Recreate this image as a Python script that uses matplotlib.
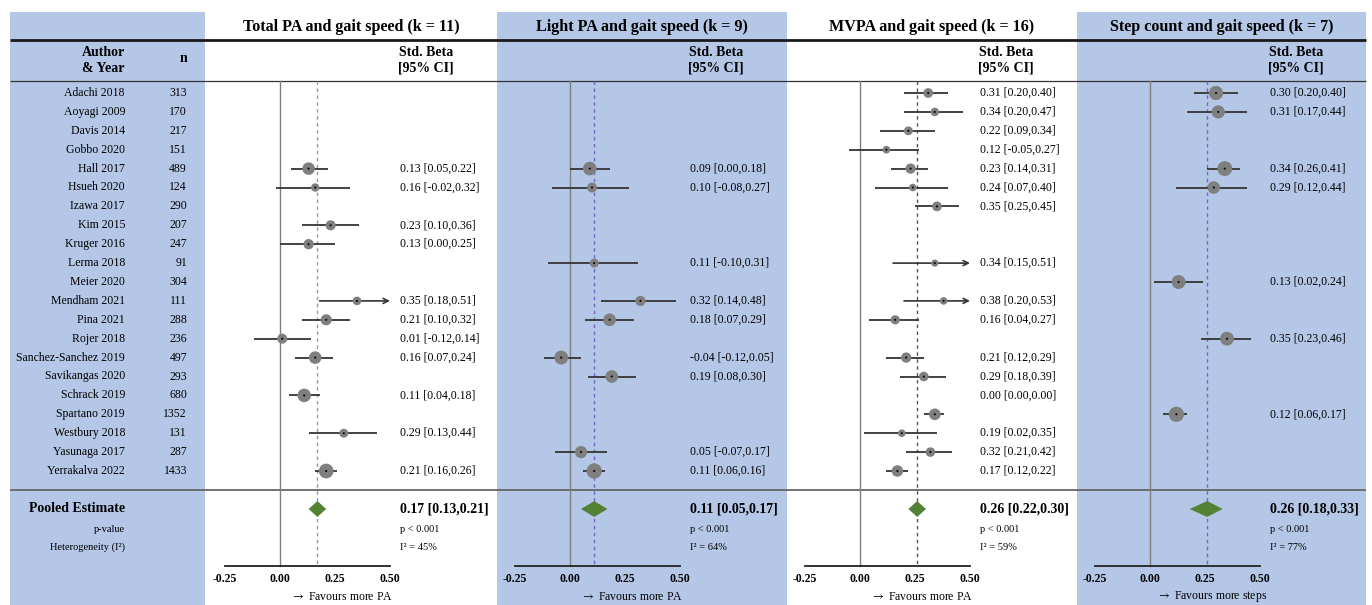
import numpy as np
import matplotlib
matplotlib.use("Agg")
import matplotlib.pyplot as plt
from matplotlib.patches import Rectangle, Polygon

plt.rcParams['font.family'] = ['Liberation Serif', 'DejaVu Serif']
plt.rcParams['mathtext.fontset'] = 'stix'

# ---------------- data ----------------
authors = ["Adachi 2018", "Aoyagi 2009", "Davis 2014", "Gobbo 2020", "Hall 2017",
           "Hsueh 2020", "Izawa 2017", "Kim 2015", "Kruger 2016", "Lerma 2018",
           "Meier 2020", "Mendham 2021", "Pina 2021", "Rojer 2018",
           "Sanchez-Sanchez 2019", "Savikangas 2020", "Schrack 2019",
           "Spartano 2019", "Westbury 2018", "Yasunaga 2017", "Yerrakalva 2022"]
n_sizes = [313, 170, 217, 151, 489, 124, 290, 207, 247, 91, 304, 111, 288, 236,
           497, 293, 680, 1352, 131, 287, 1433]

nan = np.nan
total_est = [nan, nan, nan, nan, 0.13, 0.16, nan, 0.23, 0.13, nan, nan, 0.35, 0.21, 0.01, 0.16, nan, 0.11, nan, 0.29, nan, 0.21]
total_lo  = [nan, nan, nan, nan, 0.05, -0.02, nan, 0.10, 0.00, nan, nan, 0.18, 0.10, -0.12, 0.07, nan, 0.04, nan, 0.13, nan, 0.16]
total_hi  = [nan, nan, nan, nan, 0.22, 0.32, nan, 0.36, 0.25, nan, nan, 0.51, 0.32, 0.14, 0.24, nan, 0.18, nan, 0.44, nan, 0.26]

light_est = [nan, nan, nan, nan, 0.09, 0.10, nan, nan, nan, 0.11, nan, 0.32, 0.18, nan, -0.04, 0.19, nan, nan, nan, 0.05, 0.11]
light_lo  = [nan, nan, nan, nan, 0.00, -0.08, nan, nan, nan, -0.10, nan, 0.14, 0.07, nan, -0.12, 0.08, nan, nan, nan, -0.07, 0.06]
light_hi  = [nan, nan, nan, nan, 0.18, 0.27, nan, nan, nan, 0.31, nan, 0.48, 0.29, nan, 0.05, 0.30, nan, nan, nan, 0.17, 0.16]

mvpa_est = [0.31, 0.34, 0.22, 0.12, 0.23, 0.24, 0.35, nan, nan, 0.34, nan, 0.38, 0.16, nan, 0.21, 0.29, nan, 0.34, 0.19, 0.32, 0.17]
mvpa_lo  = [0.20, 0.20, 0.09, -0.05, 0.14, 0.07, 0.25, nan, nan, 0.15, nan, 0.20, 0.04, nan, 0.12, 0.18, nan, 0.29, 0.02, 0.21, 0.12]
mvpa_hi  = [0.40, 0.47, 0.34, 0.27, 0.31, 0.40, 0.45, nan, nan, 0.51, nan, 0.53, 0.27, nan, 0.29, 0.39, nan, 0.38, 0.35, 0.42, 0.22]
# as printed in the original (text without marker for Schrack, marker without text for Spartano)
mvpa_text_override = {16: "0.00 [0.00,0.00]", 17: ""}

steps_est = [0.30, 0.31, nan, nan, 0.34, 0.29, nan, nan, nan, nan, 0.13, nan, nan, 0.35, nan, nan, nan, 0.12, nan, nan, nan]
steps_lo  = [0.20, 0.17, nan, nan, 0.26, 0.12, nan, nan, nan, nan, 0.02, nan, nan, 0.23, nan, nan, nan, 0.06, nan, nan, nan]
steps_hi  = [0.40, 0.44, nan, nan, 0.41, 0.44, nan, nan, nan, nan, 0.24, nan, nan, 0.46, nan, nan, nan, 0.17, nan, nan, nan]

titles = ["Total PA and gait speed", "Light PA and gait speed",
          "MVPA and gait speed", "Step count and gait speed"]
k_studies = [11, 9, 16, 7]
pooled_est = [0.17, 0.11, 0.26, 0.26]
pooled_lo = [0.13, 0.05, 0.22, 0.18]
pooled_hi = [0.21, 0.17, 0.30, 0.33]
p_values = ["p < 0.001", "p < 0.001", "p < 0.001", "p < 0.001"]
i2_values = [45, 64, 59, 77]
favours = ["Favours more PA", "Favours more PA", "Favours more PA", "Favours more steps"]
ticks = [-0.25, 0.0, 0.25, 0.50]
tick_labels = ["-0.25", "0.00", "0.25", "0.50"]

# ---------------- layout / style ----------------
W, H = 1372, 605
BLUE = "#b4c7e7"
GREEN = "#548235"
MARK = "#7f7f7f"
LINE = "#333333"
dash_colors = ["#9a90c2", "#7566c2", "#555555", "#7566c2"]
panel_edges = [(205, 497), (497, 787), (787, 1077), (1077, 1366)]
panel_zero = [280, 570, 860, 1150]
PX_PER_UNIT = 220.0
blue_panels = [False, True, False, True]


def row_of(py):
    return (py - 93) / 18.9


YB, YT = row_of(H), row_of(0)

fig = plt.figure(figsize=(W / 100, H / 100), dpi=100)
bg = fig.add_axes([0, 0, 1, 1])
bg.set_xlim(0, W)
bg.set_ylim(YB, YT)
bg.axis('off')

# backgrounds
top = row_of(12)
bg.add_patch(Rectangle((10, top), 195, YB - top, color=BLUE, lw=0, zorder=0))
for (l, r), isblue in zip(panel_edges, blue_panels):
    if isblue:
        bg.add_patch(Rectangle((l, top), r - l, YB - top, color=BLUE, lw=0, zorder=0))

# horizontal rules
bg.plot([10, 1366], [row_of(40)] * 2, color="#1a1a1a", lw=2.0, zorder=2, solid_capstyle='butt')
bg.plot([10, 1366], [row_of(81)] * 2, color="#333333", lw=0.9, zorder=2, solid_capstyle='butt')
bg.plot([10, 1366], [row_of(490)] * 2, color="#666666", lw=1.3, zorder=2, solid_capstyle='butt')

# left column
bg.text(125, row_of(52), "Author", ha='right', va='center', fontsize=10, fontweight='bold')
bg.text(125, row_of(68), "& Year", ha='right', va='center', fontsize=10, fontweight='bold')
bg.text(187, row_of(58), "n", ha='right', va='center', fontsize=10, fontweight='bold')
for i, (a, nn) in enumerate(zip(authors, n_sizes)):
    bg.text(125, i, a, ha='right', va='center', fontsize=8.5)
    bg.text(187, i, str(nn), ha='right', va='center', fontsize=8.5)
bg.text(125, row_of(509), "Pooled Estimate", ha='right', va='center', fontsize=10, fontweight='bold')
bg.text(125, row_of(529), "p-value", ha='right', va='center', fontsize=7.5)
bg.text(125, row_of(547), "Heterogeneity (I\u00b2)", ha='right', va='center', fontsize=7.5)

panels = [(total_est, total_lo, total_hi, {}),
          (light_est, light_lo, light_hi, {}),
          (mvpa_est, mvpa_lo, mvpa_hi, mvpa_text_override),
          (steps_est, steps_lo, steps_hi, {})]


def box_diameters(est, lo, hi):
    """Box diameter (px) proportional to sqrt of random-effects weight share."""
    est, lo, hi = map(np.asarray, (est, lo, hi))
    m = ~np.isnan(est)
    se = (hi[m] - lo[m]) / 3.92
    w = 1 / se ** 2
    yw = np.sum(w * est[m]) / np.sum(w)
    Q = np.sum(w * (est[m] - yw) ** 2)
    C = np.sum(w) - np.sum(w ** 2) / np.sum(w)
    tau2 = max(0.0, (Q - (m.sum() - 1)) / C)
    ws = 1 / (se ** 2 + tau2)
    pct = ws / ws.sum()
    d = np.full(est.shape, np.nan)
    d[m] = 37.0 * np.sqrt(pct)
    return d


y_top_line = row_of(81)
y_axis = row_of(566)

for p, ((l, r), z) in enumerate(zip(panel_edges, panel_zero)):
    est, lo, hi, override = panels[p]
    ax = fig.add_axes([l / W, 0, (r - l) / W, 1])
    ax.patch.set_alpha(0)
    ax.set_xlim((l - z) / PX_PER_UNIT, (r - z) / PX_PER_UNIT)
    ax.set_ylim(YB, YT)
    for s in ['top', 'left', 'right']:
        ax.spines[s].set_visible(False)
    ax.set_yticks([])

    xmid = ((l - z) + (r - z)) / 2 / PX_PER_UNIT
    ax.text(xmid, row_of(27), f"{titles[p]} (k = {k_studies[p]})",
            ha='center', va='center', fontsize=11.6, fontweight='bold')
    ax.text(0.665, row_of(52), "Std. Beta", ha='center', va='center', fontsize=10, fontweight='bold')
    ax.text(0.665, row_of(68), "[95% CI]", ha='center', va='center', fontsize=10, fontweight='bold')

    # reference lines
    ax.plot([0, 0], [y_top_line, y_axis], color="#7f7f7f", lw=1.0, zorder=1)
    ax.plot([pooled_est[p]] * 2, [y_top_line, y_axis], color=dash_colors[p], lw=1.0,
            ls=(0, (2.5, 2.5)), zorder=1)

    d = box_diameters(est, lo, hi)
    for i in range(len(authors)):
        e, lw_, hw_ = est[i], lo[i], hi[i]
        if not np.isnan(e):
            if hw_ > 0.5:
                ax.annotate("", xy=(0.5, i), xytext=(lw_, i),
                            arrowprops=dict(arrowstyle='->', color=LINE, lw=1.2,
                                            shrinkA=0, shrinkB=0, mutation_scale=9),
                            zorder=2)
            else:
                ax.plot([lw_, hw_], [i, i], color=LINE, lw=1.3, zorder=2,
                        solid_capstyle='butt')
            ax.scatter([e], [i], s=(d[i] * 0.72) ** 2, color=MARK, edgecolors='none', zorder=3)
            ax.scatter([e], [i], s=2.2, color='black', edgecolors='none', zorder=4)
        if i in override:
            txt = override[i]
        elif not np.isnan(e):
            txt = f"{e:.2f} [{lw_:.2f},{hw_:.2f}]"
        else:
            txt = ""
        if txt:
            ax.text(0.545, i, txt, ha='left', va='center', fontsize=8.5)

    # pooled diamond
    yp = row_of(509)
    hh = 0.42
    diamond = Polygon([[pooled_lo[p], yp], [pooled_est[p], yp - hh],
                       [pooled_hi[p], yp], [pooled_est[p], yp + hh]],
                      closed=True, color=GREEN, lw=0, zorder=3)
    ax.add_patch(diamond)
    ax.text(0.545, yp, f"{pooled_est[p]:.2f} [{pooled_lo[p]:.2f},{pooled_hi[p]:.2f}]",
            ha='left', va='center', fontsize=10, fontweight='bold')
    ax.text(0.545, row_of(529), p_values[p], ha='left', va='center', fontsize=7.5)
    ax.text(0.545, row_of(547), f"I\u00b2 = {i2_values[p]}%", ha='left', va='center', fontsize=7.5)

    # x axis
    sp = ax.spines['bottom']
    sp.set_position(('data', y_axis))
    sp.set_bounds(-0.25, 0.5)
    sp.set_color("#222222")
    sp.set_linewidth(1.3)
    ax.set_xticks(ticks)
    ax.set_xticklabels(tick_labels, fontweight='bold')
    ax.set_xticks([-0.25, 0.5], minor=True)
    ax.tick_params(axis='x', which='major', length=0, pad=5, labelsize=8.5)
    ax.tick_params(axis='x', which='minor', length=3, width=1.3, color="#222222", direction='out')
    ax.text(0.28, row_of(597), r"$\rightarrow$ " + favours[p], ha='center', va='center', fontsize=8.5)

fig.savefig("out.png", dpi=100)
